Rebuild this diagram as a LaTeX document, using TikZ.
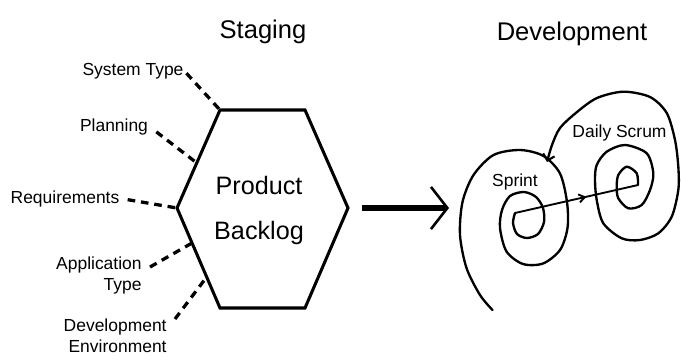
\documentclass[tikz,border=0pt]{standalone}
\usepackage{fontspec}
\setmainfont{Liberation Sans}
\usetikzlibrary{arrows.meta, positioning, calc, decorations.markings}

\begin{document}
\begin{tikzpicture}[
    x=0.03cm, y=-0.03cm,
    title/.style={font=\fontsize{21.8}{26}\selectfont, anchor=base},
    label/.style={font=\fontsize{14.9}{18}\selectfont, inner sep=1pt},
    hexline/.style={line width=2.6pt, line join=miter},
    link/.style={line width=2.8pt, dash pattern=on 6.5pt off 5pt},
    bigarrow/.style={-{Straight Barb[length=14pt, width=36pt, line width=2.2pt]}, line width=4.5pt},
    spiral/.style={line width=2pt, line cap=round},
    flow/.style={line width=1.6pt},
    midarrow/.style={postaction={decorate}, decoration={markings,
        mark=at position 0.58 with {\arrow{Straight Barb[length=5pt, width=7pt, line width=1.6pt]}}}}
]
    \useasboundingbox (0,0) rectangle (681,359);

    % stage titles
    \node[title] (staging) at (263,38) {Staging};
    \node[title] (development) at (572,40) {Development};

    % product backlog hexagon
    \coordinate (tl) at (220,110);
    \coordinate (tr) at (305,110);
    \coordinate (r)  at (348,208);
    \coordinate (br) at (305,308);
    \coordinate (bl) at (220,308);
    \coordinate (l)  at (177,208);
    \draw[hexline] (tl) -- (tr) -- (r) -- (br) -- (bl) -- (l) -- cycle;
    \node[align=center, font=\fontsize{21.5}{37.6}\selectfont] (backlog) at (259,210.5) {Product\\Backlog};

    % inputs to the backlog
    \node[label] (systype) at (133,71.5) {System Type};
    \node[label] (planning) at (114,126.5) {Planning};
    \node[label] (requirements) at (65,198.5) {Requirements};
    \node[label, align=right, anchor=north east] (apptype) at (143,255) {Application\\Type};
    \node[label, align=right, anchor=north east] (devenv) at (168,317) {Development\\Environment};

    \coordinate (pl) at ($(l)!0.46!(tl)$);
    \coordinate (ap) at ($(l)!0.35!(bl)$);
    \coordinate (de) at ($(l)!0.69!(bl)$);

    \draw[link, shorten <=2pt] (systype.east) -- (tl);
    \draw[link, shorten <=7.5pt] (planning.east) -- (pl);
    \draw[link, shorten <=6pt] (requirements.east) -- (l);
    \draw[link] ([shift={(7,12)}]apptype.north east) -- (ap);
    \draw[link] ([shift={(7,2)}]devenv.north east) -- (de);

    % staging to development
    \coordinate (devin) at (449,208);
    \draw[bigarrow] ([shift={(14,0)}]r) -- (devin);

    % sprint spiral
    \coordinate (sprintin) at (515,213);
    \draw[spiral] plot[smooth] coordinates {(sprintin) (513,223) (517,234) (527,238)
        (538,234) (544,222) (543,208) (536,197) (524,192) (510,196) (502,210)
        (500,228) (506.5,251.5) (523,264) (543,263.5) (560,250) (567.5,228)
        (567,202) (560,173.5) (543.5,156) (520,150) (493.5,155) (473.5,175)
        (462.5,202) (460,235) (466.5,268) (480,295) (492.5,310)};
    \node[label] (sprint) at (515,182) {Sprint};

    % daily scrum spiral
    \coordinate (scrumin) at (638,185);
    \draw[spiral, -{Straight Barb[length=5pt, width=10pt, line width=1.8pt]}] plot[smooth] coordinates {(scrumin)
        (636.7,173.3) (626.7,166.7) (618.3,175) (616.7,186.7) (618.3,198.3)
        (628.3,208.3) (641.7,205) (650,190) (653.3,173.3) (646.7,153.3)
        (625,145) (606.7,151.7) (596.7,165) (595,180) (596.7,200) (603.3,223.3)
        (621.7,238.3) (640,240) (658.3,233.3) (671.7,216.7) (678.3,190)
        (678.3,166.7) (675,140) (666.7,113) (650,97) (623.3,91.7) (597,98)
        (577,112) (560,128) (552,145) (547,162)};
    \node[label] (scrum) at (619.5,132.5) {Daily Scrum};

    \draw[flow, midarrow] (sprintin) -- (scrumin);
\end{tikzpicture}
\end{document}
